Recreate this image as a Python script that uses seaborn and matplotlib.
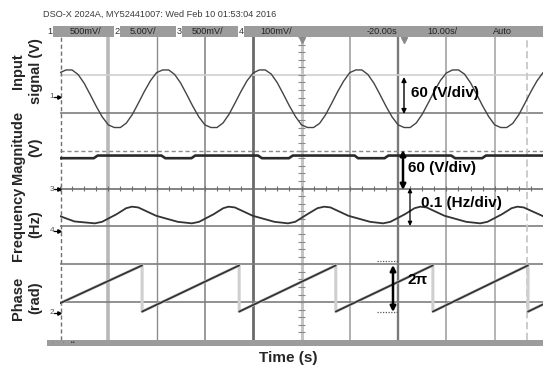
import numpy as np
import pandas as pd
import matplotlib
matplotlib.use("Agg")
import matplotlib.pyplot as plt
from matplotlib.patches import Rectangle
from matplotlib.lines import Line2D
import seaborn as sns

# ---------------- data (x and y in screen divisions) ----------------
sig_t = np.arange(81) * 0.125
input_signal = [
    3.06, 3.13, 3.13, 3.01, 2.78, 2.48, 2.17, 1.89, 1.68, 1.61, 1.61, 1.73, 1.96, 2.26, 2.57, 2.85,
    3.06, 3.13, 3.13, 3.01, 2.78, 2.48, 2.17, 1.89, 1.68, 1.61, 1.61, 1.73, 1.96, 2.26, 2.57, 2.85,
    3.05, 3.13, 3.13, 3.02, 2.79, 2.49, 2.18, 1.90, 1.68, 1.61, 1.61, 1.72, 1.95, 2.25, 2.56, 2.84,
    3.06, 3.13, 3.13, 3.01, 2.78, 2.48, 2.17, 1.89, 1.68, 1.61, 1.61, 1.73, 1.96, 2.26, 2.57, 2.85,
    3.05, 3.13, 3.13, 3.02, 2.79, 2.49, 2.18, 1.90, 1.68, 1.61, 1.61, 1.72, 1.95, 2.25, 2.56, 2.84,
    3.06,
]

mag_t = [0.0, 0.70, 0.78, 2.10, 2.18, 2.72, 2.80, 4.10, 4.18, 4.74, 4.82, 6.10, 6.17, 6.72,
         6.80, 8.10, 8.18, 8.74, 8.82, 10.0]
magnitude = [0.80, 0.80, 0.87, 0.87, 0.80, 0.80, 0.87, 0.87, 0.80, 0.80, 0.87, 0.87, 0.80, 0.80,
             0.87, 0.87, 0.80, 0.80, 0.87, 0.87]

freq_t = [0.0, 0.30,
          0.72, 0.87, 1.17, 1.37, 1.49, 1.62, 1.99, 2.44,
          2.73, 2.88, 3.18, 3.38, 3.49, 3.62, 3.99, 4.44,
          4.72, 4.87, 5.12, 5.33, 5.47, 5.60, 5.97, 6.42,
          6.69, 6.84, 7.14, 7.34, 7.46, 7.59, 7.96, 8.41,
          8.70, 8.85, 9.15, 9.35, 9.47, 9.60, 10.0]
frequency = [-0.73, -0.87,
             -0.92, -0.88, -0.68, -0.52, -0.48, -0.50, -0.72, -0.88,
             -0.92, -0.88, -0.68, -0.52, -0.48, -0.50, -0.72, -0.88,
             -0.92, -0.88, -0.68, -0.52, -0.48, -0.50, -0.72, -0.88,
             -0.92, -0.88, -0.68, -0.52, -0.48, -0.50, -0.72, -0.88,
             -0.92, -0.88, -0.68, -0.52, -0.48, -0.50, -0.73]

phase_t = [0.0, 1.70, 1.70, 3.71, 3.71, 5.71, 5.71, 7.72, 7.72, 9.69, 9.69, 10.0]
phase = [-3.03, -2.03, -3.25, -2.03, -3.25, -2.03, -3.25, -2.03, -3.25, -2.03, -3.25, -3.06]
phase_seg = [0, 0, 1, 1, 2, 2, 3, 3, 4, 4, 5, 5]

ylabels = ["Input\nsignal (V)", "Magnitude\n(V)", "Frequency\n(Hz)", "Phase\n(rad)"]
header = "DSO-X 2024A, MY52441007: Wed Feb 10 01:53:04 2016"
bar_channels = ["1", "2", "3", "4"]
bar_scales = ["500mV/", "5.00V/", "500mV/", "100mV/"]
bar_time = ["-20.00s", "10.00s/", "Auto"]
xlabel = "Time (s)"

# ---------------- figure ----------------
sns.set_style("white")
plt.rcParams["font.family"] = ["Liberation Sans", "DejaVu Sans"]

W, H = 543, 367
fig = plt.figure(figsize=(W / 100, H / 100), dpi=100)
fig.patch.set_facecolor("white")


def fx(x):
    return x / W


def fy(y):
    return 1 - y / H


ax = fig.add_axes([fx(60), fy(340), fx(543) - fx(60), fy(37) - fy(340)])
ax.set_xlim(0, 10)
ax.set_ylim(-4, 4)
ax.set_xticks([])
ax.set_yticks([])
for s in ax.spines.values():
    s.set_visible(False)

# grid
vgrid = [(1, "#b8b8b8", 2.6), (2, "#8e8e8e", 1.0), (3, "#9a9a9a", 1.4), (4, "#6a6a6a", 2.0),
         (5, "#c4c4c4", 2.2), (6, "#a2a2a2", 1.2), (7, "#7a7a7a", 1.7), (8, "#a2a2a2", 1.2),
         (9, "#a8a8a8", 1.2)]
for x, c, lw in vgrid:
    ax.axvline(x, color=c, lw=lw, zorder=0)
hgrid = [(3, "#d0d0d0", 1.2, "-"), (2, "#7e7e7e", 1.2, "-"), (1, "#8a8a8a", 1.0, (0, (3, 2))),
         (0, "#6e6e6e", 1.2, "-"), (-1, "#7e7e7e", 1.2, "-"), (-2, "#7e7e7e", 1.2, "-"),
         (-3, "#7e7e7e", 1.2, "-")]
for y, c, lw, ls in hgrid:
    ax.axhline(y, color=c, lw=lw, ls=ls, zorder=0)
# center-line minor ticks
ax.hlines(np.arange(-4, 4.01, 0.2), 4.93, 5.07, color="#8a8a8a", lw=0.8, zorder=0)
ax.vlines(np.arange(0, 10.01, 0.25), -0.07, 0.07, color="#6e6e6e", lw=0.8, zorder=0)
# left border (dashed) and cursor
ax.axvline(0.02, color="#707070", lw=1.0, ls=(0, (3, 2)), zorder=1)
ax.axvline(9.67, color="#c8c8c8", lw=1.3, ls=(0, (4, 2)), zorder=1)
# trigger markers
ax.plot([5.0, 7.12], [3.92, 3.92], ls="none", marker="v", ms=4, color="#8a8a8a", clip_on=False, zorder=3)

# traces
sns.lineplot(x=sig_t, y=input_signal, ax=ax, color="#444444", lw=1.0, zorder=4)
sns.lineplot(x=mag_t, y=magnitude, ax=ax, color="#2a2a2a", lw=1.9, zorder=4)
sns.lineplot(x=freq_t, y=frequency, ax=ax, color="#333333", lw=1.3, zorder=4)
df_phase = pd.DataFrame({"t": phase_t, "v": phase, "seg": phase_seg, "all": 0})
sns.lineplot(data=df_phase, x="t", y="v", units="all", estimator=None, sort=False, ax=ax,
             color="#cfcfcf", lw=2.2, zorder=3)
sns.lineplot(data=df_phase, x="t", y="v", units="seg", estimator=None, sort=False, ax=ax,
             color="#333333", lw=1.3, zorder=4)
ax.set_xlabel("")
ax.set_ylabel("")
if ax.get_legend() is not None:
    ax.get_legend().remove()


# annotations
def xd(x):
    return (x - 60) / 48.3


def yd(y):
    return (188.5 - y) / 37.875


def darrow(x, y1, y2, lw, ms):
    ax.annotate("", xy=(xd(x), yd(y1)), xytext=(xd(x), yd(y2)),
                arrowprops=dict(arrowstyle="<|-|>", lw=lw, color="black", mutation_scale=ms,
                                shrinkA=0, shrinkB=0), zorder=6)


darrow(404, 77, 114, 1.0, 7)
darrow(403, 150, 190, 1.8, 8)
darrow(410, 188, 226, 0.9, 6)
darrow(393, 265, 312, 1.8, 8)
ax.hlines([yd(261), yd(312)], xd(377), xd(399), color="#555555", lw=0.9, ls=(0, (1, 1.2)), zorder=5)

tkw = dict(fontsize=11, fontweight="bold", color="black", va="center", ha="left", zorder=7)
ax.text(xd(411), yd(93), "60 (V/div)", **tkw)
ax.text(xd(408), yd(168), "60 (V/div)", **tkw)
ax.text(xd(421), yd(203), "0.1 (Hz/div)", **tkw)
ax.text(xd(407), yd(280), "2\u03c0", **tkw)

# header and top bar
fig.text(fx(43), fy(14), header, fontsize=6.6, color="#3a3a3a", va="center", ha="left")
fig.add_artist(Rectangle((fx(47), fy(37)), fx(543) - fx(47), (37 - 26) / H,
                         transform=fig.transFigure, facecolor="#9c9c9c", edgecolor="none"))
ch_x = [50, 117, 179, 241]
sc_x = [70, 130, 192, 260]
for n, xb, s, xs in zip(bar_channels, ch_x, bar_scales, sc_x):
    fig.text(fx(xb), fy(31.5), n, fontsize=6.6, color="#333333", ha="center", va="center",
             bbox=dict(facecolor="white", edgecolor="none", pad=0.6))
    fig.text(fx(xs), fy(31.5), s, fontsize=6.6, color="#222222", ha="left", va="center")
for s, xs in zip(bar_time, [367, 427, 493]):
    fig.text(fx(xs), fy(31.5), s, fontsize=6.6, color="#222222", ha="left", va="center")

# bottom bar
fig.add_artist(Rectangle((fx(47), fy(346)), fx(543) - fx(47), 6 / H,
                         transform=fig.transFigure, facecolor="#9c9c9c", edgecolor="none"))
fig.text(fx(52), fy(343), "\u00b7      \u00b7    \u25aa\u25aa", fontsize=4, color="#444444", va="center", ha="left")

# channel ground markers
for n, yy in [("1", 97), ("3", 189), ("4", 231), ("2", 313)]:
    fig.text(fx(52), fy(yy), n, fontsize=6, color="#555555", ha="center", va="center")
    fig.add_artist(Line2D([fx(54), fx(59)], [fy(yy), fy(yy)], transform=fig.transFigure,
                          color="black", lw=0.9))
    fig.add_artist(Line2D([fx(58.5)], [fy(yy)], transform=fig.transFigure, marker=">",
                          ms=2.5, color="black"))

# y labels (stacked, rotated)
for lab, yy in zip(ylabels, [71, 147, 224, 298]):
    fig.text(fx(27), fy(yy), lab, rotation=90, fontsize=10.5, fontweight="bold",
             ha="center", va="center", multialignment="center", linespacing=1.3)

fig.text(fx(288), fy(358), xlabel, fontsize=11, fontweight="bold", ha="center", va="center")

fig.savefig("out.png", dpi=100)
